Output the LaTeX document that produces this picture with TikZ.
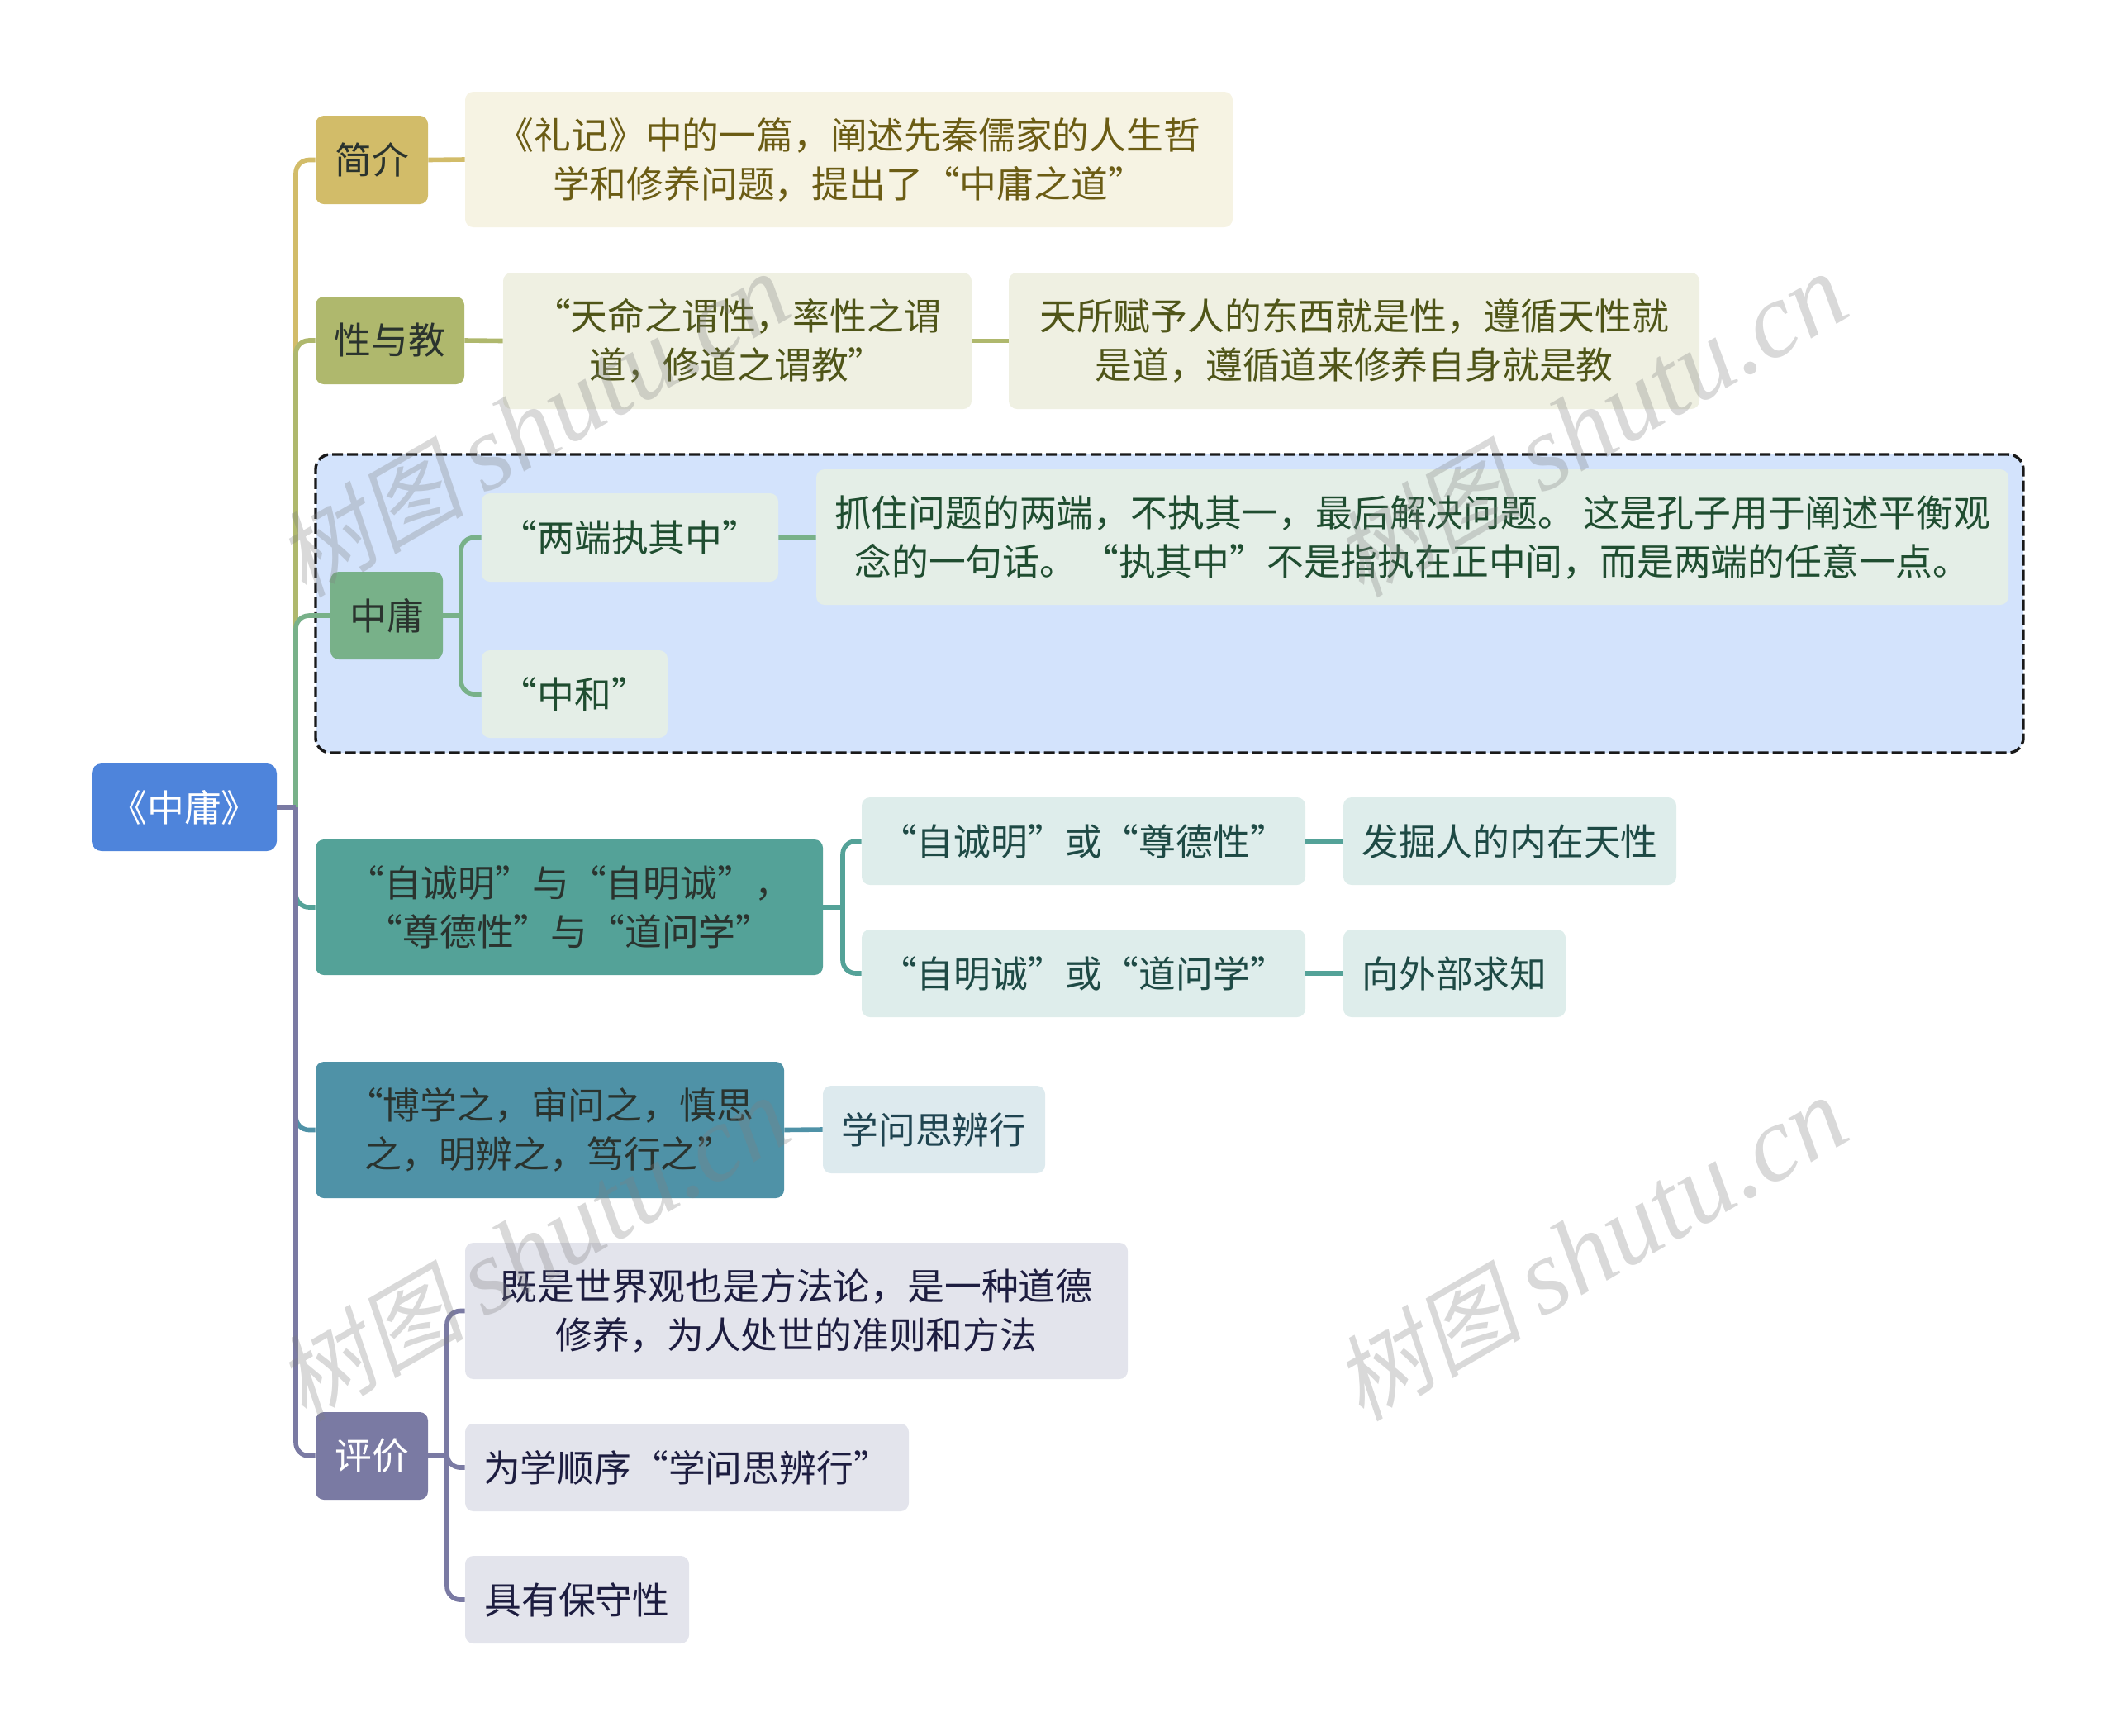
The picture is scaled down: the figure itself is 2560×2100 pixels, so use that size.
\documentclass[tikz,border=0pt]{standalone}
\usepackage{fontspec}
\setmainfont{Noto Sans CJK SC}
\newfontfamily\wmlatin{Liberation Serif}[ItalicFont=* Italic]
\newfontfamily\wmcjk{Noto Sans CJK SC}[FakeSlant=0.2]
\definecolor{cRoot}{HTML}{4E84DB}
\definecolor{cA}{HTML}{D2BC69}\definecolor{cAl}{HTML}{F6F3E3}\definecolor{tA}{HTML}{6B5C14}
\definecolor{cB}{HTML}{AFB86D}\definecolor{cBl}{HTML}{EFF0E2}\definecolor{tB}{HTML}{4F5518}
\definecolor{cC}{HTML}{78B189}\definecolor{cCl}{HTML}{E4EEE7}\definecolor{tC}{HTML}{1F4D30}
\definecolor{cD}{HTML}{54A298}\definecolor{cDl}{HTML}{DEEDEB}\definecolor{tD}{HTML}{1E4A45}
\definecolor{cE}{HTML}{4F92A7}\definecolor{cEl}{HTML}{DDEAEE}\definecolor{tE}{HTML}{1F4450}
\definecolor{cF}{HTML}{7A7AA3}\definecolor{cFl}{HTML}{E3E4EC}\definecolor{tF}{HTML}{1D1D40}
\definecolor{cDash}{HTML}{D3E3FC}\definecolor{tDark}{HTML}{2A332E}
\tikzset{
  base/.style={rounded corners=5pt,inner sep=0pt,align=center,font=\fontsize{22.4}{29.5}\selectfont},
  rootbox/.style={base,fill=cRoot,text=white,rounded corners=6pt},
  topbox/.style={base,fill=#1,text=tDark},
  subbox/.style n args={2}{base,fill=#1,text=#2},
  link/.style={draw=#1,line width=2.8pt,line join=round},
  bend/.style={link=#1,rounded corners=8pt},
  wmark/.style={text=black!50,text opacity=.3,inner sep=0pt,rotate=30}
}
\newcommand{\bx}[7]{\node[#2,minimum width={(#5-#3)*0.5pt},minimum height={(#6-#4)*0.5pt}] (#1) at ({(#3+#5)/2},{(#4+#6)/2}) {#7};}
\newcommand{\wmtext}{{\wmcjk\fontsize{57}{60}\selectfont 树图}\hspace{12pt}{\wmlatin\itshape\fontsize{65}{60}\selectfont shutu.cn}}
\begin{document}
\begin{tikzpicture}[x=0.5pt,y=-0.5pt]
\useasboundingbox (0,0) rectangle (2560,2100);
\node[draw=black!90,fill=cDash,dash pattern=on 6.5pt off 2.5pt,line width=1.7pt,rounded corners=9pt,inner sep=0pt,minimum width={2067*0.5pt},minimum height={361*0.5pt}] (grp) at (1415.5,730.5) {};
\bx{root}{rootbox}{111}{924}{335}{1030}{《中庸》}
\bx{a}{topbox=cA}{382}{140}{518}{247}{简介}
\bx{a1}{subbox={cAl}{tA}}{563}{111}{1492}{275}{《礼记》中的一篇，阐述先秦儒家的人生哲\\学和修养问题，提出了“中庸之道”}
\bx{b}{topbox=cB}{382}{359}{562}{465}{性与教}
\bx{b1}{subbox={cBl}{tB}}{609}{330}{1176}{495}{“天命之谓性，率性之谓\\道，修道之谓教”}
\bx{b2}{subbox={cBl}{tB}}{1221}{330}{2057}{495}{天所赋予人的东西就是性，遵循天性就\\是道，遵循道来修养自身就是教}
\bx{c}{topbox=cC}{400}{692}{536}{798}{中庸}
\bx{c1}{subbox={cCl}{tC}}{583}{597}{942}{704}{“两端执其中”}
\bx{c11}{subbox={cCl}{tC}}{988}{568}{2431}{732}{抓住问题的两端，不执其一，最后解决问题。 这是孔子用于阐述平衡观\\念的一句话。\hspace{3pt}“执其中”不是指执在正中间，而是两端的任意一点。}
\bx{c2}{subbox={cCl}{tC}}{583}{787}{808}{893}{“中和”}
\bx{d}{topbox=cD}{382}{1016}{996}{1180}{“自诚明”与“自明诚”，\\“尊德性”与“道问学”}
\bx{d1}{subbox={cDl}{tD}}{1043}{965}{1580}{1071}{“自诚明”或“尊德性”}
\bx{d11}{subbox={cDl}{tD}}{1626}{965}{2029}{1071}{发掘人的内在天性}
\bx{d2}{subbox={cDl}{tD}}{1043}{1125}{1580}{1231}{“自明诚”或“道问学”}
\bx{d21}{subbox={cDl}{tD}}{1626}{1125}{1895}{1231}{向外部求知}
\bx{e}{topbox=cE}{382}{1285}{949}{1450}{“博学之，审问之，慎思\\之，明辨之，笃行之”}
\bx{e1}{subbox={cEl}{tE}}{996}{1314}{1265}{1420}{学问思辨行}
\bx{f}{base,fill=cF,text=white}{382}{1709}{518}{1815}{评价}
\bx{f1}{subbox={cFl}{tF}}{563}{1504}{1365}{1669}{既是世界观也是方法论，是一种道德\\修养，为人处世的准则和方法}
\bx{f2}{subbox={cFl}{tF}}{563}{1723}{1100}{1829}{为学顺序“学问思辨行”}
\bx{f3}{subbox={cFl}{tF}}{563}{1883}{834}{1989}{具有保守性}
% stems
\coordinate (s0) at (358,977);
\coordinate (s1) at (558,745);
\draw[bend=cA] (s0) -- (s0 |- a.west) -- (a.west);
\draw[bend=cB] (s0) -- (s0 |- b.west) -- (b.west);
\draw[bend=cC] (s0) -- (s0 |- c.west) -- (c.west);
\draw[bend=cD] (s0) -- (s0 |- d.west) -- (d.west);
\draw[bend=cE] (s0) -- (s0 |- e.west) -- (e.west);
\draw[bend=cF] (s0) -- (s0 |- f.west) -- (f.west);
\draw[link=cF] (root.east) -- (s0);
\draw[link=cA] (a.east) -- (a1.west);
\draw[link=cB] (b.east) -- (b1.west);
\draw[link=cB] (b1.east) -- (b2.west);
\draw[link=cC] (c.east) -- (s1);
\draw[bend=cC] (s1) -- (s1 |- c1.west) -- (c1.west);
\draw[bend=cC] (s1) -- (s1 |- c2.west) -- (c2.west);
\draw[link=cC] (c1.east) -- (c11.west);
\coordinate (s3) at (1020,1098);
\draw[link=cD] (d.east) -- (s3);
\draw[bend=cD] (s3) -- (s3 |- d1.west) -- (d1.west);
\draw[bend=cD] (s3) -- (s3 |- d2.west) -- (d2.west);
\draw[link=cD] (d1.east) -- (d11.west);
\draw[link=cD] (d2.east) -- (d21.west);
\draw[link=cE] (e.east) -- (e1.west);
\coordinate (s4) at (541,1762);
\draw[link=cF] (f.east) -- (s4);
\draw[bend=cF] (s4) -- (s4 |- f1.west) -- (f1.west);
\draw[bend=cF] (s4) -- (s4 |- f2.west) -- (f2.west);
\draw[bend=cF] (s4) -- (s4 |- f3.west) -- (f3.west);
% watermarks
\node[wmark] (w1) at (645,515) {\wmtext};
\node[wmark] (w2) at (1925,515) {\wmtext};
\node[wmark] (w3) at (645,1512) {\wmtext};
\node[wmark] (w4) at (1925,1512) {\wmtext};
\end{tikzpicture}
\end{document}
